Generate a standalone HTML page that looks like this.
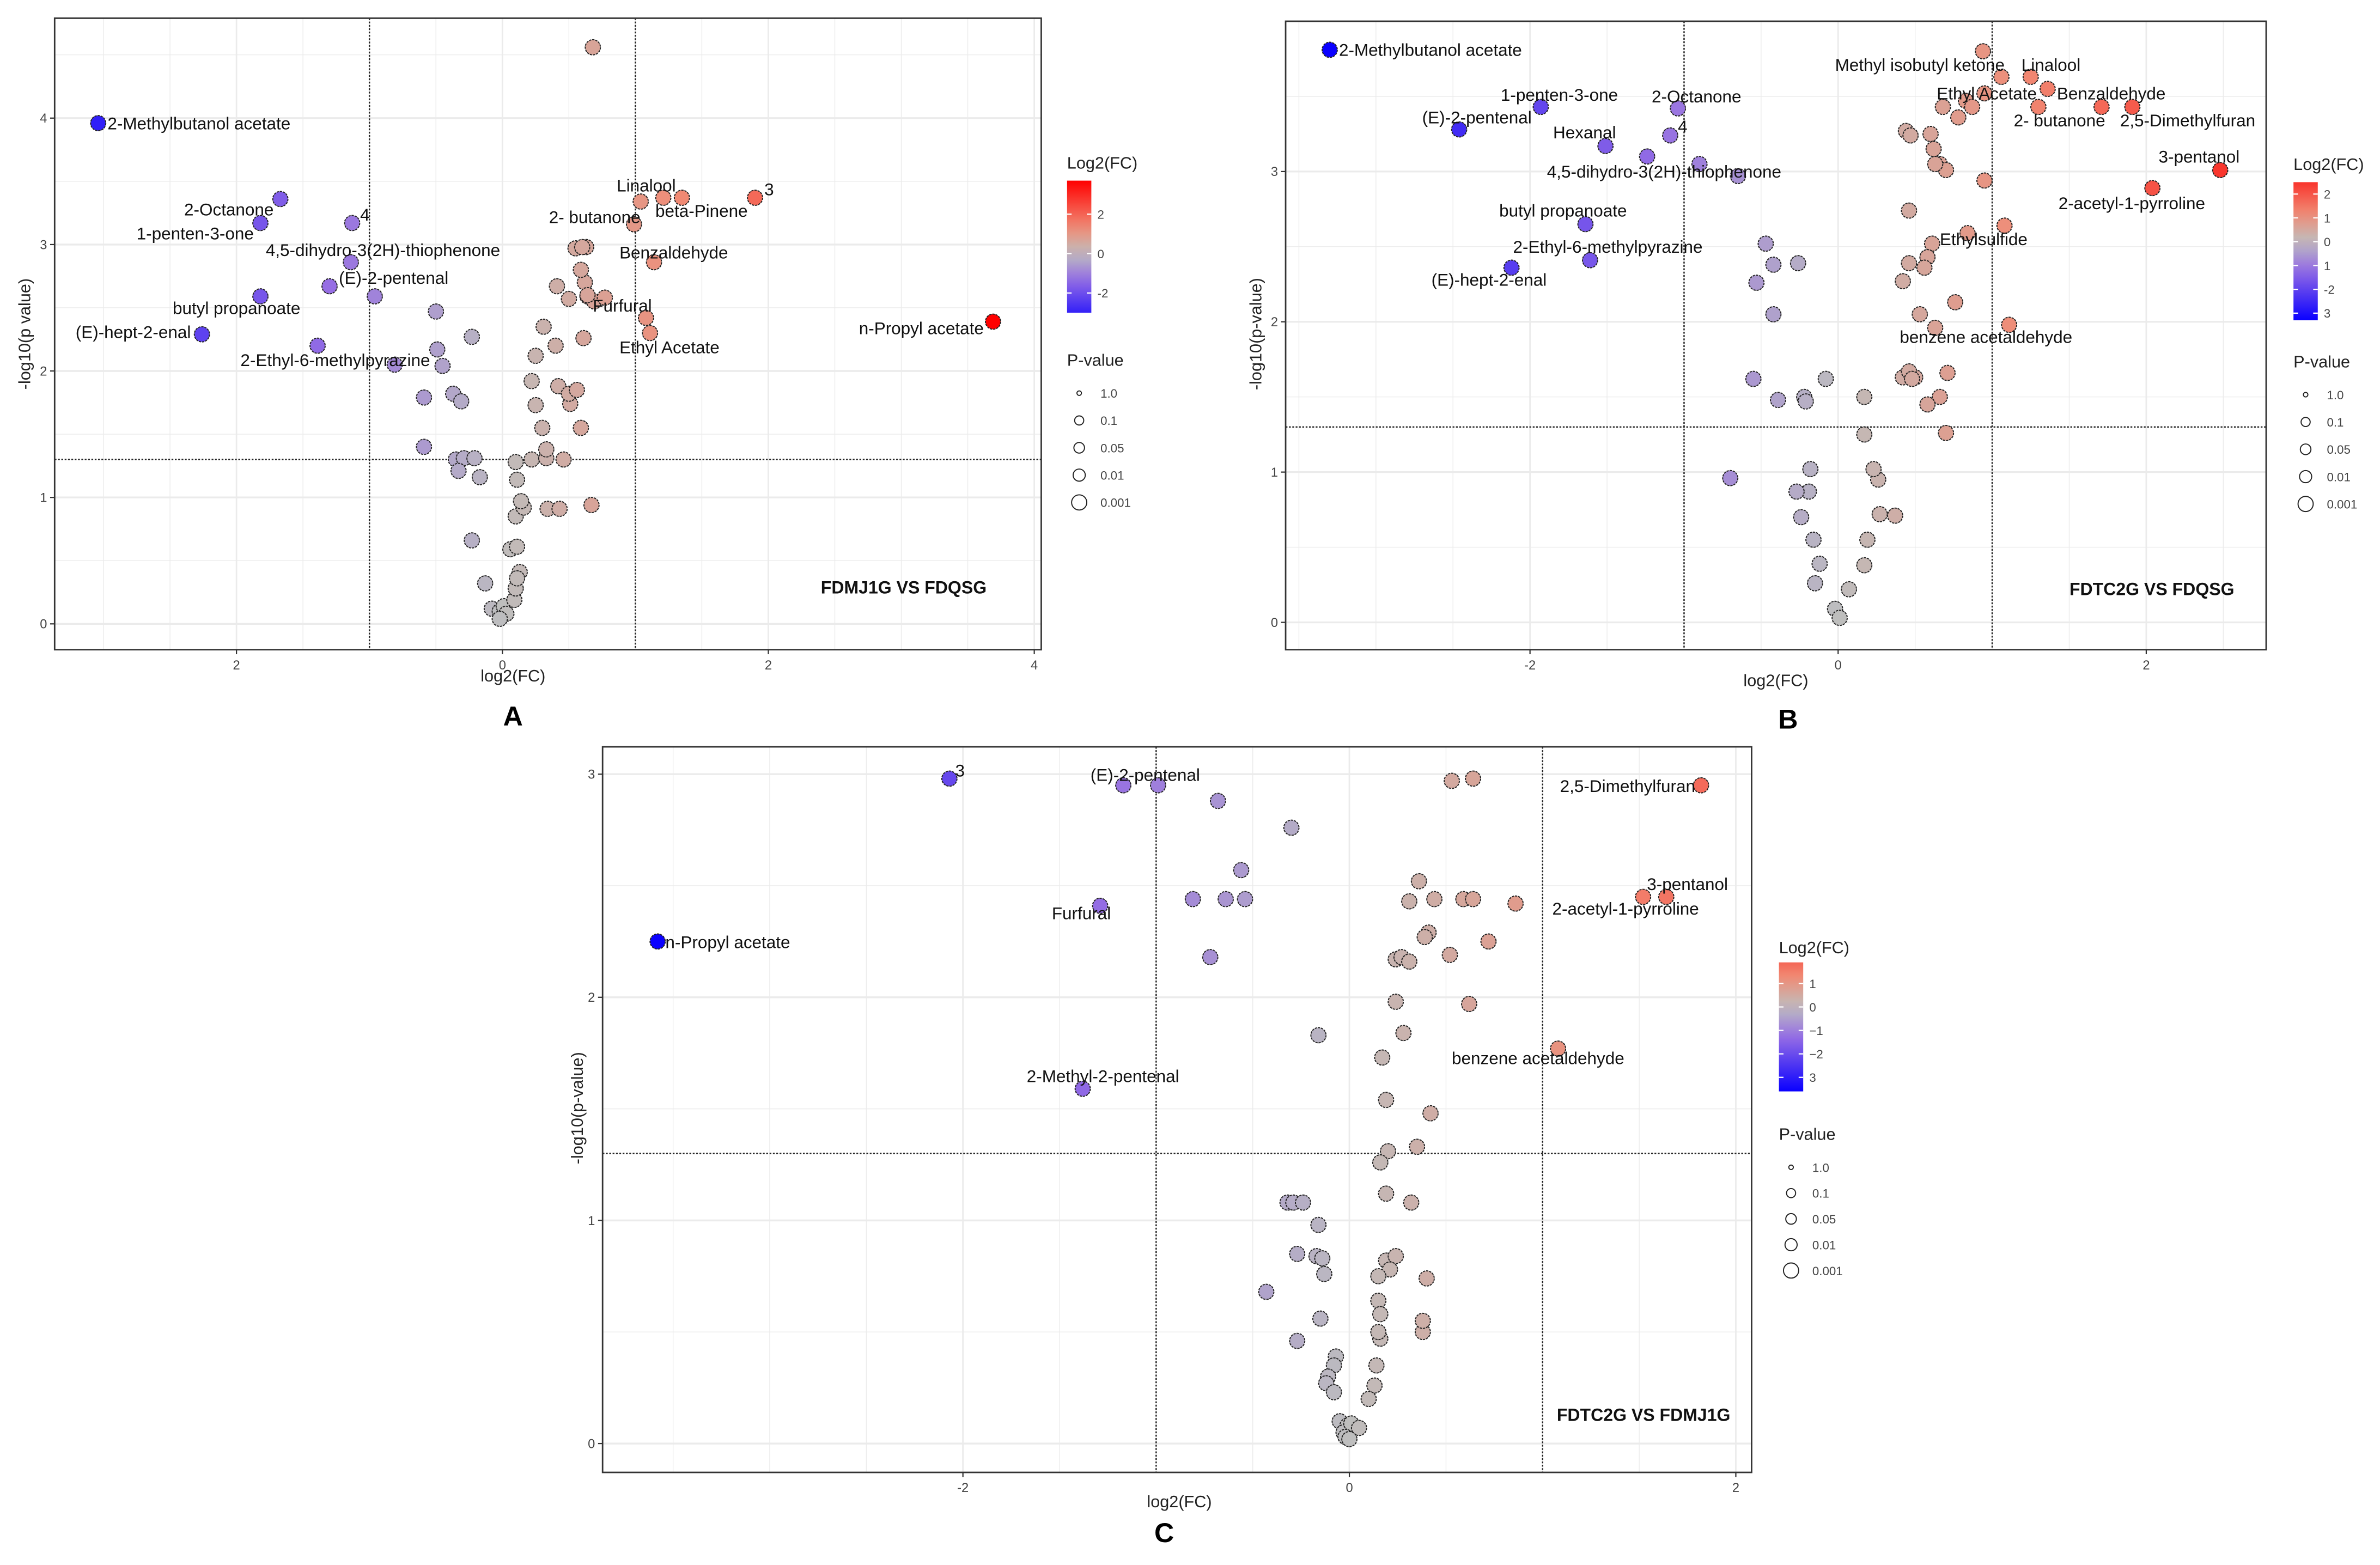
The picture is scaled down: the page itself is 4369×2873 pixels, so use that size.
<!DOCTYPE html>
<html><head><meta charset="utf-8">
<style>
html,body{margin:0;padding:0;background:#fff;}
svg{display:block;}
text{font-family:"Liberation Sans",sans-serif;}
</style></head>
<body>
<svg id="fig" xmlns="http://www.w3.org/2000/svg" width="4369" height="2873" viewBox="0 0 1568 1031" preserveAspectRatio="none">
<rect x="0" y="0" width="1568" height="1031" fill="#fff"/>
</svg>
<script>
// ---------- Panel A data ----------
const aX = [-3.04,0.68,-1.67,-1.82,-1.13,-1.14,-1.30,-0.96,-1.82,-2.26,-1.39,-0.81,-0.50,-0.49,-0.45,-0.23,-0.59,-0.37,-0.31,-0.59,-0.35,-0.29,-0.21,-0.33,-0.17,-0.23,-0.13,-0.08,-0.02,0.01,0.03,-0.02,0.09,0.10,0.13,0.11,0.06,0.11,0.10,0.16,0.14,0.34,0.43,0.67,0.11,0.10,0.22,0.33,0.46,0.33,0.30,0.59,0.25,0.51,0.22,0.42,0.50,0.56,0.25,0.40,0.61,0.31,0.41,0.50,0.64,0.62,0.69,0.77,0.59,0.63,0.55,0.60,0.64,1.04,1.21,1.35,1.90,0.99,1.14,1.08,1.11,3.69];
const aY = [3.96,4.56,3.36,3.17,3.17,2.86,2.67,2.59,2.59,2.29,2.20,2.05,2.47,2.17,2.04,2.27,1.79,1.82,1.76,1.40,1.30,1.31,1.31,1.21,1.16,0.66,0.32,0.12,0.10,0.14,0.08,0.04,0.19,0.28,0.41,0.36,0.59,0.61,0.85,0.92,0.97,0.91,0.91,0.94,1.14,1.28,1.30,1.31,1.30,1.38,1.55,1.55,1.73,1.74,1.92,1.88,1.82,1.85,2.12,2.20,2.26,2.35,2.67,2.57,2.59,2.70,2.55,2.58,2.80,2.98,2.97,2.98,2.60,3.34,3.37,3.37,3.37,3.16,2.86,2.42,2.30,2.39];
const aLabels = ["2-Methylbutanol acetate","2-Octanone","1-penten-3-one","4","4,5-dihydro-3(2H)-thiophenone","(E)-2-pentenal","butyl propanoate","(E)-hept-2-enal","2-Ethyl-6-methylpyrazine","Linalool","3","beta-Pinene","2- butanone","Benzaldehyde","Furfural","Ethyl Acetate","n-Propyl acetate"];
const aLabelX = [-2.97,-1.72,-1.87,-1.07,-1.78,-1.23,-2.48,-3.21,-1.97,0.86,1.97,1.15,0.35,0.88,0.68,0.88,3.62];
const aLabelY = [3.91,3.23,3.04,3.19,2.91,2.69,2.45,2.26,2.04,3.42,3.39,3.22,3.17,2.89,2.47,2.14,2.29];
const aLabelEnd = [0,1,1,0,0,0,0,0,0,0,0,0,0,0,0,0,1];
const aXTicks = [-2,0,2,4];
const aXTickLabels = ["2","0","2","4"];
const aYTicks = [0,1,2,3,4];
const aYTickLabels = ["0","1","2","3","4"];

// ---------- Panel B data ----------
const bX = [-3.30,-1.93,-2.46,-1.04,-1.09,-1.51,-1.24,-0.90,-0.65,-1.64,-1.61,-2.12,-0.47,-0.42,-0.53,-0.26,-0.42,-0.55,-0.39,-0.22,-0.21,-0.08,-0.70,-0.18,-0.19,-0.27,-0.24,-0.16,-0.12,-0.15,-0.02,0.01,0.07,0.17,0.19,0.27,0.37,0.26,0.23,0.17,0.42,0.50,0.94,1.25,1.06,1.36,0.95,0.83,0.68,0.87,0.78,1.30,1.71,1.91,2.48,2.04,1.08,0.84,0.95,0.66,0.70,0.46,0.44,0.47,0.60,0.62,0.63,0.61,0.58,0.56,0.46,0.42,0.76,0.53,0.63,1.11,0.71,0.46,0.48,0.66,0.58,0.70,0.17];
const bY = [3.81,3.43,3.28,3.42,3.24,3.17,3.10,3.05,2.97,2.65,2.41,2.36,2.52,2.38,2.26,2.39,2.05,1.62,1.48,1.50,1.47,1.62,0.96,1.02,0.87,0.87,0.70,0.55,0.39,0.26,0.09,0.03,0.22,0.38,0.55,0.72,0.71,0.95,1.02,1.25,1.63,1.63,3.80,3.63,3.63,3.55,3.52,3.47,3.43,3.43,3.36,3.43,3.43,3.43,3.01,2.89,2.64,2.59,2.94,3.05,3.01,2.74,3.27,3.24,3.25,3.15,3.05,2.52,2.43,2.36,2.39,2.27,2.13,2.05,1.96,1.98,1.66,1.67,1.62,1.50,1.45,1.26,1.50];
const bLabels = ["2-Methylbutanol acetate","1-penten-3-one","2-Octanone","(E)-2-pentenal","Hexanal","4","4,5-dihydro-3(2H)-thiophenone","butyl propanoate","2-Ethyl-6-methylpyrazine","(E)-hept-2-enal","Methyl isobutyl ketone","Linalool","Ethyl Acetate","Benzaldehyde","2- butanone","2,5-Dimethylfuran","3-pentanol","2-acetyl-1-pyrroline","Ethylsulfide","benzene acetaldehyde"];
const bLabelX = [-3.24,-2.19,-1.21,-2.70,-1.85,-1.04,-1.89,-2.20,-2.11,-2.64,-0.02,1.19,0.64,1.42,1.14,1.83,2.08,1.43,0.66,0.40];
const bLabelY = [3.77,3.47,3.46,3.32,3.22,3.26,2.96,2.70,2.46,2.24,3.67,3.67,3.48,3.48,3.30,3.30,3.06,2.75,2.51,1.86];
const bXTicks = [-2,0,2];
const bXTickLabels = ["-2","0","2"];
const bYTicks = [0,1,2,3];
const bYTickLabels = ["0","1","2","3"];

// ---------- Panel C data ----------
const cX = [-3.58,-2.07,-1.17,-0.99,-0.68,-0.30,-0.56,-0.81,-0.64,-0.54,-1.29,-0.72,-1.38,-0.16,0.53,0.64,1.82,0.36,0.31,0.44,0.59,0.64,0.86,1.64,1.52,0.41,0.39,0.72,0.24,0.27,0.31,0.52,0.24,0.62,0.28,1.08,0.17,0.19,0.42,0.35,0.20,0.16,-0.32,-0.29,-0.24,-0.16,-0.27,-0.17,-0.14,-0.13,-0.43,0.19,0.24,0.21,0.15,0.40,0.32,0.19,0.15,0.16,-0.15,-0.27,-0.07,-0.08,-0.11,-0.12,-0.08,0.13,0.14,0.38,0.16,0.15,0.10,0.38,-0.05,-0.01,0.02,-0.03,0.01,0.05,-0.02,0.00];
const cY = [2.25,2.98,2.95,2.95,2.88,2.76,2.57,2.44,2.44,2.44,2.41,2.18,1.59,1.83,2.97,2.98,2.95,2.52,2.43,2.44,2.44,2.44,2.42,2.45,2.45,2.29,2.27,2.25,2.17,2.18,2.16,2.19,1.98,1.97,1.84,1.77,1.73,1.54,1.48,1.33,1.31,1.26,1.08,1.08,1.08,0.98,0.85,0.84,0.83,0.76,0.68,0.82,0.84,0.78,0.75,0.74,1.08,1.12,0.64,0.58,0.56,0.46,0.39,0.35,0.30,0.27,0.23,0.26,0.35,0.50,0.47,0.50,0.20,0.55,0.10,0.08,0.07,0.05,0.09,0.07,0.03,0.02];
const cLabels = ["3","(E)-2-pentenal","2,5-Dimethylfuran","3-pentanol","2-acetyl-1-pyrroline","Furfural","n-Propyl acetate","benzene acetaldehyde","2-Methyl-2-pentenal"];
const cLabelX = [-2.04,-1.34,1.09,1.54,1.05,-1.54,-3.54,0.53,-1.67];
const cLabelY = [2.99,2.97,2.92,2.48,2.37,2.35,2.22,1.70,1.62];
const cXTicks = [-2,0,2];
const cXTickLabels = ["-2","0","2"];
const cYTicks = [0,1,2,3];
const cYTickLabels = ["0","1","2","3"];

const sizeLabels = ["1.0","0.1","0.05","0.01","0.001"];
const sizeRadii = [1.5,3,3.5,4,5];

const NS = "http://www.w3.org/2000/svg";
const svg = document.getElementById('fig');
function mk(tag, attrs, parent){
  const e = document.createElementNS(NS, tag);
  for (const k in attrs) e.setAttribute(k, attrs[k]);
  (parent||svg).appendChild(e);
  return e;
}
function lerp(a,b,t){return a.map((v,i)=>Math.round(v+(b[i]-v)*t));}
function colorFor(v, lim){
  let t = Math.min(Math.abs(v)/lim,1);
  const g=[190,190,190];
  const k=0.35;
  let c;
  if (v<0){ c = t<k ? lerp(g,[150,110,228],t/k) : lerp([150,110,228],[10,0,255],(t-k)/(1-k)); }
  else { c = t<k ? lerp(g,[240,140,118],t/k) : lerp([240,140,118],[255,0,0],(t-k)/(1-k)); }
  return `rgb(${c[0]},${c[1]},${c[2]})`;
}

function panel(cfg){
  const g = mk('g',{});
  
  
  const sx = v => cfg.x0px + v*cfg.xu;
  const sy = v => cfg.y0px - v*cfg.yu;
  const L=cfg.box[0],T=cfg.box[1],R=cfg.box[2],B=cfg.box[3];
  const gx0 = Math.ceil((L-cfg.x0px)/cfg.xu*2)/2, gx1=Math.floor((R-cfg.x0px)/cfg.xu*2)/2;
  for (let v=gx0; v<=gx1; v+=0.5){
    const major = Math.abs(v-Math.round(v))<1e-6 && Math.abs(Math.round(v)%2)<1e-6;
    const ln = mk('line',{x1:sx(v),x2:sx(v),y1:T,y2:B,stroke:'#ebebeb','stroke-width':major?1:0.5},g);
    
    
  }
  const gy0 = Math.ceil((cfg.y0px-B)/cfg.yu*2)/2, gy1=Math.floor((cfg.y0px-T)/cfg.yu*2)/2;
  for (let v=gy0; v<=gy1; v+=0.5){
    const major = Math.abs(v-Math.round(v))<1e-6;
    const ln = mk('line',{x1:L,x2:R,y1:sy(v),y2:sy(v),stroke:'#ebebeb','stroke-width':major?1.2:0.5},g);
    
    
  }
  [-1,1].forEach(v=>{
    const ln=mk('line',{x1:sx(v),x2:sx(v),y1:T,y2:B,stroke:'#222','stroke-width':0.9,'stroke-dasharray':'1.2,1'},g);
    
    
  });
  const hl=mk('line',{x1:L,x2:R,y1:sy(1.3),y2:sy(1.3),stroke:'#222','stroke-width':0.9,'stroke-dasharray':'1.2,1'},g);
  
  
  cfg.xs.forEach((xv,i)=>{
    const c = mk('circle',{cx:sx(xv),cy:sy(cfg.ys[i]),r:5,fill:colorFor(xv,cfg.lim),stroke:'#222','stroke-width':0.7,'stroke-dasharray':'1.5,0.6'},g);
    
    
  });
  cfg.labels.forEach((t,i)=>{
    const tx = mk('text',{x:sx(cfg.lx[i]),y:sy(cfg.ly[i]),'font-size':11.3,fill:'#111','text-anchor':(cfg.lend&&cfg.lend[i])?'end':'start'},g);
    tx.textContent=t;
    
    
  });
  const bd=mk('rect',{x:L,y:T,width:R-L,height:B-T,fill:'none',stroke:'#333','stroke-width':1},g);
  
  
  cfg.xTicks.forEach((v,i)=>{
    mk('line',{x1:sx(v),x2:sx(v),y1:B,y2:B+3,stroke:'#333','stroke-width':0.8},g);
    const t=mk('text',{x:sx(v),y:B+13,'font-size':8.5,fill:'#444','text-anchor':'middle'},g);
    t.textContent=cfg.xTickLabels[i];
    
    
  });
  cfg.yTicks.forEach((v,i)=>{
    mk('line',{x1:L-3,x2:L,y1:sy(v),y2:sy(v),stroke:'#333','stroke-width':0.8},g);
    const t=mk('text',{x:L-5,y:sy(v)+3,'font-size':8.5,fill:'#444','text-anchor':'end'},g);
    t.textContent=cfg.yTickLabels[i];
    
    
  });
  const xt=mk('text',{x:cfg.xTitle[0],y:cfg.xTitle[1],'font-size':11,fill:'#222','text-anchor':'middle'},g);
  xt.textContent=cfg.xTitleText;
  
  
  const yt=mk('text',{x:0,y:0,'font-size':11,fill:'#222','text-anchor':'middle',transform:`translate(${cfg.yTitle[0]},${cfg.yTitle[1]}) rotate(-90)`},g);
  yt.textContent=cfg.yTitleText;
  
  
  const ct=mk('text',{x:cfg.cmp[0],y:cfg.cmp[1],'font-size':11.5,'font-weight':'bold',fill:'#111','text-anchor':'end'},g);
  ct.textContent=cfg.cmpText;
  
  
  const pl=mk('text',{x:cfg.letter[0],y:cfg.letter[1],'font-size':18,'font-weight':'bold',fill:'#000','text-anchor':'middle'},g);
  pl.textContent=cfg.letterText;
  
  
  const lg=cfg.leg;
  const lt=mk('text',{x:lg.x,y:lg.y,'font-size':11,fill:'#222'},g);
  lt.textContent='Log2(FC)';
  
  
  const gid='grad'+cfg.letterText;
  const defs=mk('defs',{},g);
  const lgd=mk('linearGradient',{id:gid,x1:0,y1:0,x2:0,y2:1},defs);
  for(let k=0;k<=10;k++){
    const v = lg.hi - (lg.hi-lg.lo)*k/10;
    mk('stop',{offset:(k*10)+'%','stop-color':colorFor(v,cfg.lim)},lgd);
  }
  const cb=mk('rect',{x:lg.x,y:lg.barT,width:16,height:lg.barB-lg.barT,fill:`url(#${gid})`},g);
  
  
  lg.ticks.forEach((v,i)=>{
    const yy = lg.barT + (lg.hi-v)/(lg.hi-lg.lo)*(lg.barB-lg.barT);
    mk('line',{x1:lg.x,x2:lg.x+3,y1:yy,y2:yy,stroke:'#fff','stroke-width':0.8},g);
    mk('line',{x1:lg.x+13,x2:lg.x+16,y1:yy,y2:yy,stroke:'#fff','stroke-width':0.8},g);
    const t=mk('text',{x:lg.x+20,y:yy+3,'font-size':8,fill:'#444'},g);
    t.textContent=lg.tickLabels[i];
    
    
  });
  const pt=mk('text',{x:lg.x,y:lg.py,'font-size':11,fill:'#222'},g);
  pt.textContent='P-value';
  
  
  sizeLabels.forEach((s,i)=>{
    const yy=lg.py+18+i*lg.step;
    const c=mk('circle',{cx:lg.x+8,cy:yy,r:sizeRadii[i],fill:'none',stroke:'#222','stroke-width':0.7},g);
    
    
    const t=mk('text',{x:lg.x+22,y:yy+3,'font-size':8,fill:'#444'},g);
    t.textContent=s;
    
    
  });
}

panel({name:'panel-a',box:[36,12,686,428],x0px:331,xu:87.6,y0px:411,yu:83.3,lim:3.7,
  xs:aX,ys:aY,labels:aLabels,lx:aLabelX,ly:aLabelY,lend:aLabelEnd,
  xTicks:aXTicks,xTickLabels:aXTickLabels,yTicks:aYTicks,yTickLabels:aYTickLabels,
  xTitle:[338,449],xTitleText:'log2(FC)',yTitle:[20,220],yTitleText:'-log10(p value)',
  cmp:[650,391],cmpText:'FDMJ1G VS FDQSG',letter:[338,478],letterText:'A',
  leg:{x:703,y:111,barT:119,barB:206,hi:3.7,lo:-3.0,ticks:[2,0,-2],tickLabels:['2','0','-2'],py:241,step:18}});

panel({name:'panel-b',box:[847,14,1493,428],x0px:1211,xu:101.5,y0px:410,yu:99,lim:3.3,
  xs:bX,ys:bY,labels:bLabels,lx:bLabelX,ly:bLabelY,lend:null,
  xTicks:bXTicks,xTickLabels:bXTickLabels,yTicks:bYTicks,yTickLabels:bYTickLabels,
  xTitle:[1170,452],xTitleText:'log2(FC)',yTitle:[831,220],yTitleText:'-log10(p-value)',
  cmp:[1472,392],cmpText:'FDTC2G VS FDQSG',letter:[1178,480],letterText:'B',
  leg:{x:1511,y:112,barT:120,barB:211,hi:2.5,lo:-3.3,ticks:[2,1,0,-1,-2,-3],tickLabels:['2','1','0','1','-2','3'],py:242,step:18}});

panel({name:'panel-c',box:[397,492,1154,970],x0px:889,xu:127.3,y0px:951,yu:147,lim:3.6,
  xs:cX,ys:cY,labels:cLabels,lx:cLabelX,ly:cLabelY,lend:null,
  xTicks:cXTicks,xTickLabels:cXTickLabels,yTicks:cYTicks,yTickLabels:cYTickLabels,
  xTitle:[777,993],xTitleText:'log2(FC)',yTitle:[384,730],yTitleText:'-log10(p-value)',
  cmp:[1140,936],cmpText:'FDTC2G VS FDMJ1G',letter:[767,1016],letterText:'C',
  leg:{x:1172,y:628,barT:634,barB:719,hi:1.9,lo:-3.6,ticks:[1,0,-1,-2,-3],tickLabels:['1','0','\u22121','\u22122','3'],py:751,step:17}});
</script>
</body></html>
